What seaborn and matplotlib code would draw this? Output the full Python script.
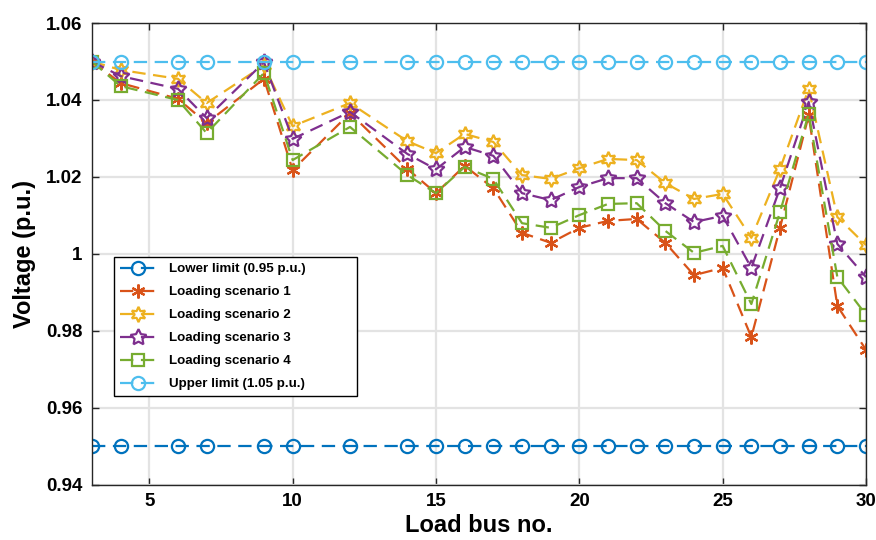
import numpy as np
import pandas as pd
import matplotlib
matplotlib.use("Agg")
import matplotlib.pyplot as plt
import seaborn as sns
from matplotlib.ticker import FuncFormatter

# Load buses (IEEE 30-bus system)
buses = [3, 4, 6, 7, 9, 10, 12, 14, 15, 16, 17, 18, 19, 20, 21, 22, 23, 24, 25, 26, 27, 28, 29, 30]

lower_limit = [0.95] * len(buses)
upper_limit = [1.05] * len(buses)

scenario1 = [1.050, 1.0444, 1.0403, 1.0340, 1.0455, 1.0218, 1.0366, 1.0221, 1.0158, 1.0229,
             1.0171, 1.0055, 1.0029, 1.0068, 1.0086, 1.0091, 1.0029, 0.9945, 0.9964, 0.9784,
             1.0068, 1.0360, 0.9865, 0.9751]
scenario2 = [1.050, 1.0478, 1.0455, 1.0392, 1.0490, 1.0332, 1.0392, 1.0293, 1.0262, 1.0312,
             1.0291, 1.0205, 1.0195, 1.0223, 1.0247, 1.0244, 1.0184, 1.0143, 1.0156, 1.0042,
             1.0221, 1.0429, 1.0096, 1.0023]
scenario3 = [1.050, 1.0462, 1.0429, 1.0353, 1.0498, 1.0299, 1.0369, 1.0260, 1.0220, 1.0278,
             1.0255, 1.0158, 1.0140, 1.0174, 1.0197, 1.0197, 1.0132, 1.0083, 1.0099, 0.9964,
             1.0171, 1.0395, 1.0026, 0.9940]
scenario4 = [1.050, 1.0436, 1.0400, 1.0314, 1.0470, 1.0244, 1.0330, 1.0205, 1.0158, 1.0226,
             1.0195, 1.0080, 1.0068, 1.0101, 1.0130, 1.0132, 1.0060, 1.0003, 1.0021, 0.9870,
             1.0109, 1.0364, 0.9940, 0.9842]

labels = ["Lower limit (0.95 p.u.)", "Loading scenario 1", "Loading scenario 2",
          "Loading scenario 3", "Loading scenario 4", "Upper limit (1.05 p.u.)"]
colors = ["#0072BD", "#D95319", "#EDB120", "#7E2F8E", "#77AC30", "#4DBEEE"]
markers = ["o", (6, 2, 0), (6, 1, 0), (5, 1, 0), "s", "o"]
msizes = [9.5, 10, 11, 12, 8.5, 9.5]

series = [lower_limit, scenario1, scenario2, scenario3, scenario4, upper_limit]

sns.set_theme(style="ticks")
plt.rcParams['font.family'] = ['Liberation Sans', 'DejaVu Sans']
plt.rcParams['font.weight'] = 'bold'
plt.rcParams['text.color'] = 'black'
plt.rcParams['axes.labelcolor'] = 'black'
plt.rcParams['xtick.labelcolor'] = 'black'
plt.rcParams['ytick.labelcolor'] = 'black'

fig = plt.figure(figsize=(8.76, 5.4), dpi=100)
ax = fig.add_axes([0.105, 0.1019, 0.8836, 0.8555])

for vals, lab, col, mk, ms in zip(series, labels, colors, markers, msizes):
    df = pd.DataFrame({"bus": buses, "v": vals})
    sns.lineplot(data=df, x="bus", y="v", ax=ax, label=lab, color=col,
                 marker=mk, markersize=ms, markerfacecolor="none",
                 markeredgecolor=col, markeredgewidth=1.6,
                 linewidth=1.6, linestyle=(0, (6, 3.4)), estimator=None)

ax.set_xlim(3, 30)
ax.set_ylim(0.94, 1.06)
ax.set_xticks([5, 10, 15, 20, 25, 30])
ax.set_yticks([0.94, 0.96, 0.98, 1.0, 1.02, 1.04, 1.06])
ax.yaxis.set_major_formatter(FuncFormatter(lambda v, p: "%g" % round(v, 2)))
ax.grid(True, color="#e3e3e3", linewidth=1.6)
ax.set_axisbelow(True)
for s in ax.spines.values():
    s.set_color("#262626")
    s.set_linewidth(1.0)
ax.tick_params(direction="in", top=True, right=True, length=5, width=1,
               color="#262626", labelsize=13.5, labelcolor="black")
ax.tick_params(axis="y", pad=7)
ax.tick_params(axis="x", pad=6)
for t in ax.get_xticklabels() + ax.get_yticklabels():
    t.set_fontweight("bold")

ax.set_xlabel("Load bus no.", fontsize=17, fontweight="bold", labelpad=3, color="black")
ax.set_ylabel("Voltage (p.u.)", fontsize=17, fontweight="bold", labelpad=7, color="black")

leg = ax.legend(loc="upper left", bbox_to_anchor=(0.0284, 0.1645, 0.314, 0.329),
                mode="expand", borderaxespad=0, fontsize=9.6,
                frameon=True, fancybox=False, edgecolor="black", framealpha=1,
                handlelength=2.7, borderpad=0.45, labelspacing=0.8, handletextpad=1.0)
leg.get_frame().set_linewidth(1.0)
for t in leg.get_texts():
    t.set_fontweight("bold")
    t.set_color("black")

fig.savefig("out.png", dpi=100)
